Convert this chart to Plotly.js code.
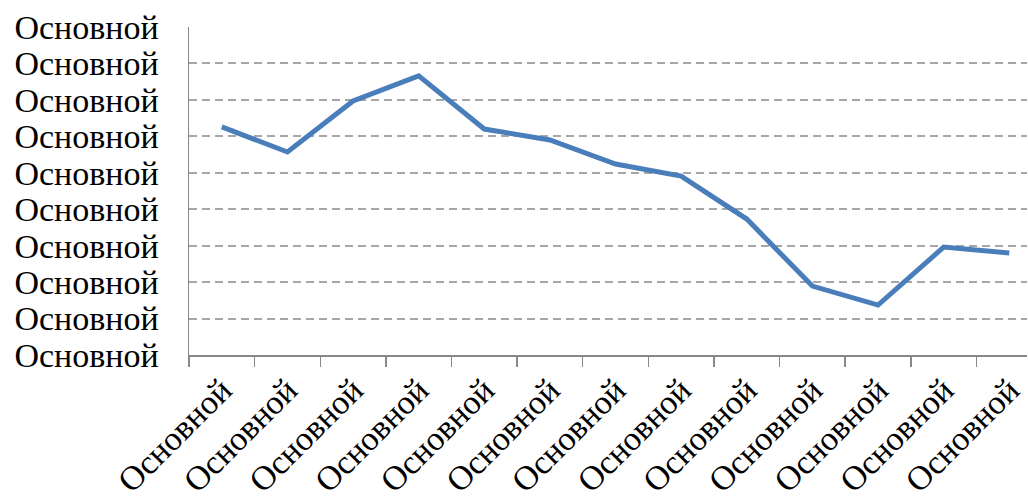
<!DOCTYPE html>
<html>
<head>
<meta charset="utf-8">
<script src="https://cdn.plot.ly/plotly-3.0.1.min.js"></script>
<style>
html,body{margin:0;padding:0;overflow:hidden;background:#fff;}
#chart{width:1028px;height:499px;}
</style>
</head>
<body>
<div id="chart"></div>
<script>
var categories = ["c1","c2","c3","c4","c5","c6","c7","c8","c9","c10","c11","c12","c13"];
var categoryLabels = ["Основной","Основной","Основной","Основной","Основной","Основной","Основной","Основной","Основной","Основной","Основной","Основной","Основной"];
var values = [6.26, 5.57, 6.97, 7.66, 6.20, 5.90, 5.24, 4.91, 3.73, 1.89, 1.37, 2.96, 2.80];
var yTickVals = [0,1,2,3,4,5,6,7,8,9];
var yTickLabels = ["Основной","Основной","Основной","Основной","Основной","Основной","Основной","Основной","Основной","Основной"];

var FONT = "'Liberation Serif', serif";

var trace = {
  x: categories,
  y: values,
  type: "scatter",
  mode: "lines",
  line: {color: "#4a7ebb", width: 5},
  hoverinfo: "skip"
};

var layout = {
  width: 1028,
  height: 499,
  margin: {l: 189, r: 1, t: 27, b: 144},
  paper_bgcolor: "#ffffff",
  plot_bgcolor: "#ffffff",
  showlegend: false,
  font: {family: FONT, size: 34, color: "#000"},
  xaxis: {
    type: "category",
    range: [-0.5, 12.27],
    tickmode: "array",
    tickvals: categories,
    ticktext: categoryLabels,
    tickangle: -45,
    tickson: "boundaries",
    ticks: "outside",
    ticklen: 10,
    tickwidth: 1.5,
    tickcolor: "#888888",
    showline: true,
    linecolor: "#888888",
    linewidth: 1.5,
    showgrid: false,
    zeroline: false,
    tickfont: {family: FONT, size: 34, color: "#000"}
  },
  yaxis: {
    range: [0, 9],
    tickmode: "array",
    tickvals: yTickVals,
    ticktext: yTickLabels,
    ticks: "",
    showline: true,
    linecolor: "#888888",
    linewidth: 1.5,
    showgrid: true,
    gridcolor: "#a6a6a6",
    gridwidth: 2,
    griddash: "8px,5px",
    zeroline: false,
    ticklabelstandoff: 22,
    tickfont: {family: FONT, size: 34, color: "#000"}
  }
};

Plotly.newPlot("chart", [trace], layout, {displayModeBar: false, staticPlot: true});
</script>
</body>
</html>
